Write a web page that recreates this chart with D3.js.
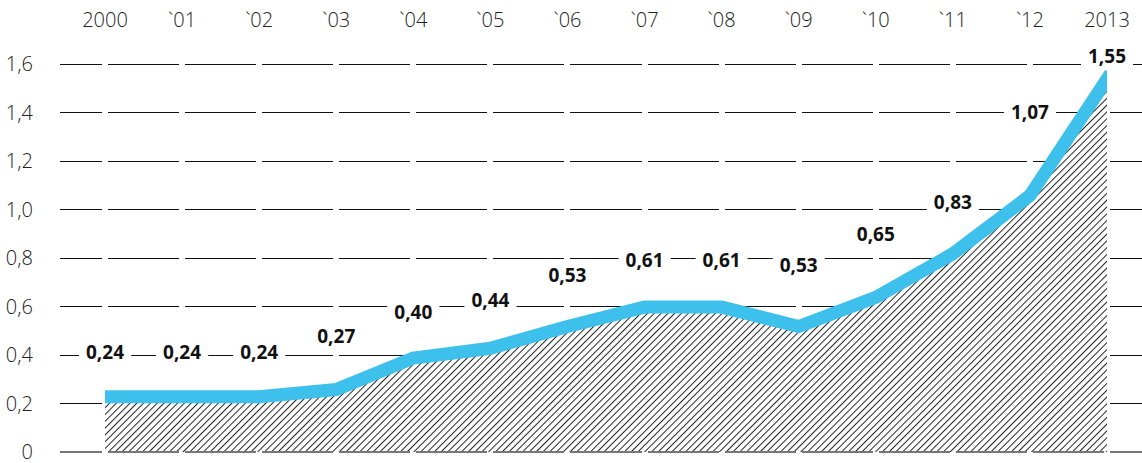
<!DOCTYPE html>
<html>
<head>
<meta charset="utf-8">
<script src="https://cdn.jsdelivr.net/npm/d3@7"></script>
<style>
  body { margin: 0; background: #fff; }
  text { font-family: "Open Sans", sans-serif; }
</style>
</head>
<body>
<div id="chart"></div>
<script>
const years = [2000, 2001, 2002, 2003, 2004, 2005, 2006, 2007, 2008, 2009, 2010, 2011, 2012, 2013];
const yearLabels = ["2000", "`01", "`02", "`03", "`04", "`05", "`06", "`07", "`08", "`09", "`10", "`11", "`12", "2013"];
const values = [0.24, 0.24, 0.24, 0.27, 0.40, 0.44, 0.53, 0.61, 0.61, 0.53, 0.65, 0.83, 1.07, 1.55];
const valueLabels = ["0,24", "0,24", "0,24", "0,27", "0,40", "0,44", "0,53", "0,61", "0,61", "0,53", "0,65", "0,83", "1,07", "1,55"];
const yTicks = [0, 0.2, 0.4, 0.6, 0.8, 1.0, 1.2, 1.4, 1.6];
const yTickLabels = ["0", "0,2", "0,4", "0,6", "0,8", "1,0", "1,2", "1,4", "1,6"];

// vertical nudge of each value label (px, relative to its point)
const labelDy = [-42, -42, -42, -51, -43, -45, -48, -44, -44, -58, -60, -49, -81, -20];

const w = 1142;
const h = 463;
const blue = "#3dc0ec";

const x = d3.scaleLinear().domain([2000, 2013]).range([105, 1107]);
const y = d3.scaleLinear().domain([0, 1.6]).range([452, 64]);

const svg = d3.select("#chart")
  .append("svg")
  .attr("width", w)
  .attr("height", h);

const defs = svg.append("defs");

defs.append("pattern")
  .attr("id", "hatch")
  .attr("patternUnits", "userSpaceOnUse")
  .attr("width", 4.8)
  .attr("height", 10)
  .attr("patternTransform", "rotate(45)")
  .append("line")
  .attr("x1", 0.5).attr("y1", 0)
  .attr("x2", 0.5).attr("y2", 10)
  .attr("stroke", "#222")
  .attr("stroke-width", 1);

defs.append("clipPath")
  .attr("id", "plot")
  .append("rect")
  .attr("x", x(2000))
  .attr("y", 0)
  .attr("width", x(2013) - x(2000))
  .attr("height", h);

// gridlines, broken at every year
const gap = 3;
const edges = [60].concat(years.flatMap((yr) => [x(yr) - gap, x(yr) + gap]), [w]);
const segs = [];
for (let i = 0; i < edges.length; i += 2) segs.push([edges[i], edges[i + 1]]);

function gridLine(parent, t) {
  parent.selectAll(null)
    .data(segs)
    .enter()
    .append("line")
    .attr("x1", (d) => d[0])
    .attr("x2", (d) => d[1])
    .attr("y1", y(t))
    .attr("y2", y(t))
    .attr("stroke", t === 0 ? "#777" : "#111")
    .attr("stroke-width", t === 0 ? 2 : 1)
    .attr("shape-rendering", "crispEdges");
}

const grid = svg.append("g").attr("id", "grid");
yTicks.filter((t) => t > 0).forEach((t) => gridLine(grid, t));

svg.append("g")
  .selectAll("text")
  .data(yTicks)
  .enter()
  .append("text")
  .attr("x", 33)
  .attr("y", (d) => y(d) + 7)
  .attr("text-anchor", "end")
  .attr("font-size", 20)
  .attr("font-weight", 300)
  .attr("fill", "#222")
  .text((d, i) => yTickLabels[i]);

svg.append("g")
  .selectAll("text")
  .data(years)
  .enter()
  .append("text")
  .attr("x", (d) => x(d))
  .attr("y", 27)
  .attr("text-anchor", "middle")
  .attr("font-size", 20)
  .attr("font-weight", 300)
  .attr("fill", "#222")
  .text((d, i) => yearLabels[i]);

const series = years.map((yr, i) => ({ year: yr, value: values[i] }));

const plot = svg.append("g")
  .attr("clip-path", "url(#plot)")
  .append("g")
  .attr("transform", "translate(0,3)");

const area = d3.area()
  .x((d) => x(d.year))
  .y0(y(0) - 3)
  .y1((d) => y(d.value));

plot.append("path")
  .datum(series)
  .attr("d", area)
  .attr("fill", "#fff");

plot.append("path")
  .datum(series)
  .attr("d", area)
  .attr("fill", "url(#hatch)");

const line = d3.line()
  .x((d) => x(d.year))
  .y((d) => y(d.value));

plot.append("path")
  .datum(series)
  .attr("d", line)
  .attr("fill", "none")
  .attr("stroke", blue)
  .attr("stroke-width", 13)
  .attr("stroke-linecap", "square")
  .attr("stroke-linejoin", "miter");

// baseline on top of the hatching
gridLine(svg.append("g"), 0);

// value labels with white backing
const labels = svg.append("g")
  .selectAll("g")
  .data(series)
  .enter()
  .append("g")
  .attr("transform", (d, i) => `translate(${x(d.year)}, ${y(d.value) + labelDy[i]})`);

labels.append("rect").attr("fill", "#fff");

labels.append("text")
  .attr("text-anchor", "middle")
  .attr("y", 7)
  .attr("font-size", 19)
  .attr("font-weight", 700)
  .attr("fill", "#111")
  .text((d, i) => valueLabels[i]);

labels.each(function () {
  const g = d3.select(this);
  const bb = g.select("text").node().getBBox();
  g.select("rect")
    .attr("x", bb.x - 7)
    .attr("y", -11)
    .attr("width", bb.width + 14)
    .attr("height", 22);
});
</script>
</body>
</html>
